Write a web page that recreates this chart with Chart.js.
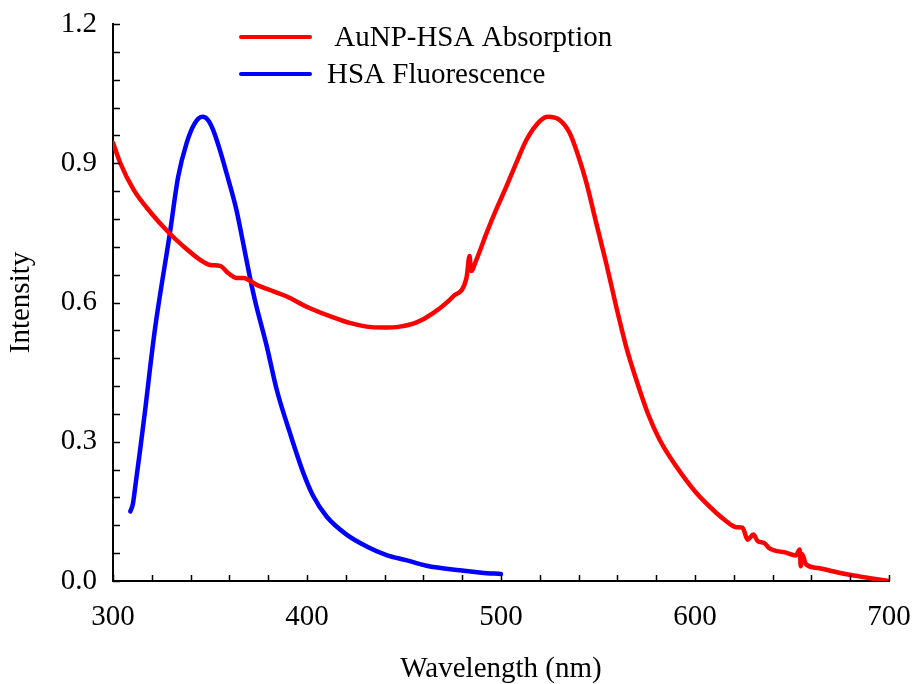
<!DOCTYPE html>
<html>
<head>
<meta charset="utf-8">
<script src="https://cdn.jsdelivr.net/npm/chart.js@4"></script>
<style>
  html, body { margin: 0; padding: 0; background: #fff; }
  #wrap { width: 914px; height: 684px; }
</style>
</head>
<body>
<div id="wrap"><canvas id="spectra" width="914" height="684"></canvas></div>
<script>
// AuNP-HSA absorption spectrum (nm, normalised)
const absWavelength = [300, 303.8, 310.6, 319.2, 328.2, 336.3, 344.9, 350, 355.2, 359.5, 363.8, 367.2, 374.1, 382.7, 389.6, 399.8, 413.5, 422, 430.7, 439.3, 447.9, 456.5, 465, 475.3, 482.2, 483.8, 484.6, 487.3, 492.5, 497.5, 502.8, 508, 513.1, 519.9, 524.2, 530.2, 535.4, 539.5, 543.9, 549.1, 554.2, 559.4, 564.5, 569.7, 575.6, 581.7, 590.3, 600.6, 610.9, 615.5, 621.2, 624.5, 627.1, 630.1, 632.3, 635.7, 638.2, 646.9, 652, 654, 654.5, 655.2, 657.2, 663.5, 670.9, 677.5, 684.6, 692, 700];
const absIntensity = [0.944, 0.900, 0.843, 0.795, 0.753, 0.721, 0.692, 0.681, 0.679, 0.663, 0.653, 0.653, 0.638, 0.624, 0.613, 0.591, 0.568, 0.556, 0.548, 0.546, 0.548, 0.557, 0.577, 0.613, 0.653, 0.700, 0.668, 0.692, 0.749, 0.800, 0.850, 0.902, 0.950, 0.990, 1.0, 0.993, 0.965, 0.920, 0.860, 0.771, 0.685, 0.591, 0.505, 0.434, 0.362, 0.305, 0.247, 0.190, 0.147, 0.131, 0.116, 0.115, 0.089, 0.100, 0.086, 0.082, 0.071, 0.061, 0.055, 0.068, 0.032, 0.058, 0.036, 0.028, 0.021, 0.015, 0.010, 0.005, 0.0];

// HSA fluorescence emission
const fluWavelength = [308.9, 310.2, 311.5, 314, 316.6, 319.2, 321.8, 329.3, 333.6, 337.9, 342, 346.1, 349, 351.6, 355, 358.5, 363.6, 367, 370.5, 373.1, 379.3, 384.4, 391.2, 398.1, 403.2, 410.1, 420.4, 431, 441, 451, 461.6, 478.7, 490, 500];
const fluIntensity = [0.150, 0.165, 0.204, 0.283, 0.369, 0.462, 0.548, 0.749, 0.871, 0.943, 0.985, 1.0, 0.993, 0.972, 0.930, 0.879, 0.800, 0.730, 0.656, 0.606, 0.505, 0.412, 0.319, 0.233, 0.183, 0.139, 0.100, 0.074, 0.056, 0.045, 0.033, 0.023, 0.018, 0.015];

const seriesLabels = [" AuNP-HSA Absorption", "HSA Fluorescence"];
const seriesColors = ["#ff0000", "#0000ff"];

const xTickLabels = [300, 400, 500, 600, 700];
const yTickLabels = ["0.0", "0.3", "0.6", "0.9", "1.2"];

const FONT = "'Liberation Serif', 'Times New Roman', serif";

const toPoints = (xs, ys) => xs.map((x, i) => ({ x: x, y: ys[i] }));

// keep the plot box fixed: no extra room for overhanging end labels
const fixBox = (size) => (s) => {
  if (s.isHorizontal()) s.height = size; else s.width = size;
  s.paddingLeft = s.paddingRight = s.paddingTop = s.paddingBottom = 0;
};

// ticks pointing into the plot, drawn for every step of each axis
const inwardTicks = {
  id: "inwardTicks",
  afterDraw(chart) {
    const ctx = chart.ctx;
    const xs = chart.scales.x;
    const ys = chart.scales.y;
    ctx.save();
    ctx.strokeStyle = "#000";
    ctx.lineWidth = 1.5;
    ctx.beginPath();
    xs.ticks.forEach((t) => {
      const px = Math.round(xs.getPixelForValue(t.value)) + 0.5;
      ctx.moveTo(px, xs.top);
      ctx.lineTo(px, xs.top - 6);
    });
    ys.ticks.forEach((t) => {
      const py = Math.round(ys.getPixelForValue(t.value)) + 0.5;
      ctx.moveTo(ys.right, py);
      ctx.lineTo(ys.right + 7, py);
    });
    ctx.stroke();
    ctx.restore();
  },
};

// simple line legend near the top of the plot
const lineLegend = {
  id: "lineLegend",
  afterDraw(chart) {
    const ctx = chart.ctx;
    ctx.save();
    ctx.font = "29px " + FONT;
    ctx.textBaseline = "middle";
    ctx.lineCap = "round";
    chart.data.datasets.forEach((ds, i) => {
      const y = 37 + i * 37;
      ctx.strokeStyle = ds.borderColor;
      ctx.lineWidth = 4;
      ctx.beginPath();
      ctx.moveTo(241, y);
      ctx.lineTo(310, y);
      ctx.stroke();
      ctx.fillStyle = "#000";
      ctx.fillText(ds.label, 327, y + 1);
    });
    ctx.restore();
  },
};

const lineStyle = {
  borderWidth: 4.5,
  pointRadius: 0,
  cubicInterpolationMode: "monotone",
  borderCapStyle: "round",
  borderJoinStyle: "round",
};

const data = {
  datasets: [
    Object.assign({
      label: seriesLabels[0],
      data: toPoints(absWavelength, absIntensity),
      borderColor: seriesColors[0],
      backgroundColor: seriesColors[0],
    }, lineStyle),
    Object.assign({
      label: seriesLabels[1],
      data: toPoints(fluWavelength, fluIntensity),
      borderColor: seriesColors[1],
      backgroundColor: seriesColors[1],
    }, lineStyle),
  ],
};

const config = {
  type: "line",
  data,
  options: {
    responsive: false,
    maintainAspectRatio: false,
    animation: false,
    layout: { padding: { left: 0, top: 24, right: 25, bottom: 0 } },
    plugins: {
      legend: { display: false },
      tooltip: { enabled: false },
    },
    scales: {
      x: {
        type: "linear",
        min: 300,
        max: 700,
        afterFit: fixBox(103),
        grid: { display: false, drawTicks: false },
        border: { display: true, color: "#000", width: 2 },
        ticks: {
          stepSize: 20,
          autoSkip: false,
          maxRotation: 0,
          padding: 19,
          color: "#000",
          font: { family: FONT, size: 29 },
          callback: (v) => (xTickLabels.includes(v) ? String(v) : ""),
        },
        title: {
          display: true,
          text: "Wavelength (nm)",
          color: "#000",
          font: { family: FONT, size: 29 },
          padding: { top: 0, bottom: -3 },
        },
      },
      y: {
        type: "linear",
        min: 0,
        max: 1.2,
        afterFit: fixBox(113),
        grid: { display: false, drawTicks: false },
        border: { display: true, color: "#000", width: 2 },
        ticks: {
          stepSize: 0.06,
          autoSkip: false,
          padding: 16,
          color: "#000",
          font: { family: FONT, size: 29 },
          callback: (v) => {
            const k = v / 0.3;
            if (Math.abs(k - Math.round(k)) > 1e-6) return "";
            return yTickLabels[Math.round(k)];
          },
        },
        title: {
          display: true,
          text: "Intensity",
          color: "#000",
          font: { family: FONT, size: 29 },
          padding: { top: 4, bottom: 0 },
        },
      },
    },
  },
  plugins: [inwardTicks, lineLegend],
};

const spectraChart = new Chart(document.getElementById("spectra"), config);
</script>
</body>
</html>
